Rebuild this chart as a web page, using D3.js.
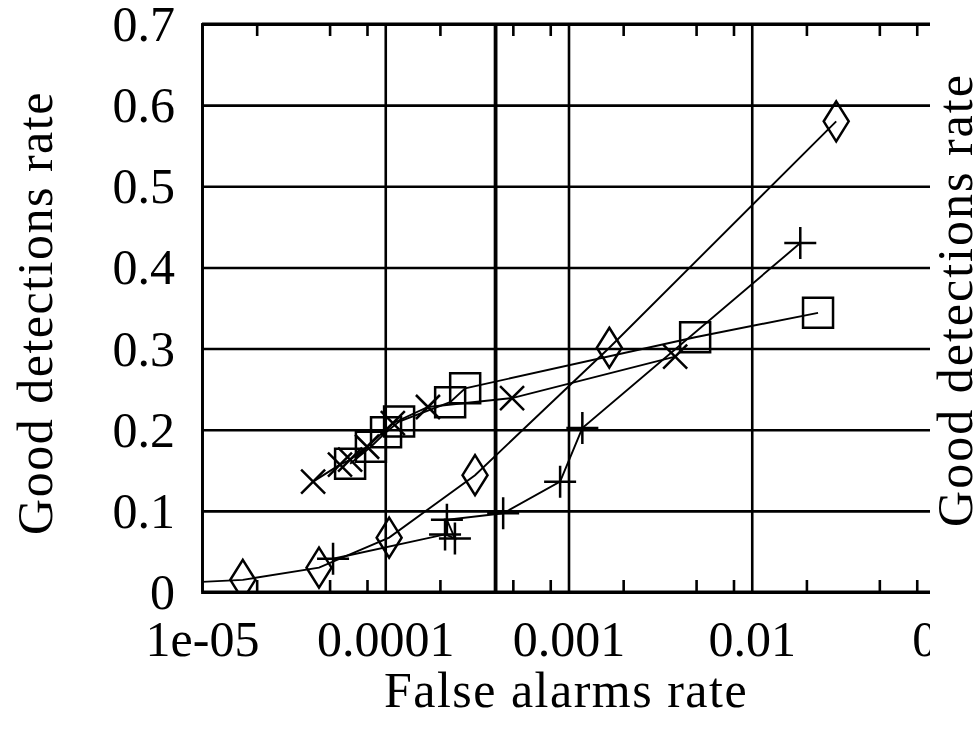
<!DOCTYPE html>
<html>
<head>
<meta charset="utf-8">
<script src="https://cdn.jsdelivr.net/npm/d3@7"></script>
<style>
  body { margin: 0; background: #fff; }
  text { font-family: "Liberation Serif", "DejaVu Serif", serif; fill: #000; }
</style>
</head>
<body>
<script>
// false alarm rate (x) / good detection rate (y), one pair of arrays per series
var diamondX = [6e-6, 1.67e-5, 4.35e-5, 1.05e-4, 3.09e-4, 1.67e-3, 0.0289];
var diamondY = [0.010, 0.015, 0.030, 0.067, 0.144, 0.301, 0.580];
var plusX = [5.19e-5, 2.12e-4, 2.40e-4, 2.17e-4, 4.40e-4, 9.0e-4, 1.19e-3, 0.0184];
var plusY = [0.041, 0.071, 0.066, 0.089, 0.097, 0.136, 0.202, 0.430];
var crossX = [4.04e-5, 5.66e-5, 6.43e-5, 7.96e-5, 1.10e-4, 1.71e-4, 4.92e-4, 3.82e-3];
var crossY = [0.136, 0.157, 0.163, 0.179, 0.208, 0.228, 0.239, 0.290];
var squareX = [6.43e-5, 8.35e-5, 1.01e-4, 1.19e-4, 2.26e-4, 2.73e-4, 4.91e-3, 0.0230];
var squareY = [0.158, 0.179, 0.197, 0.210, 0.234, 0.251, 0.314, 0.344];

var xTicks = [1e-5, 1e-4, 1e-3, 1e-2, 1e-1];
var xTickLabels = ["1e-05", "0.0001", "0.001", "0.01", "0.1"];
var xMinor = [2, 5, 8];
var yTicks = [0, 0.1, 0.2, 0.3, 0.4, 0.5, 0.6, 0.7];
var yTickLabels = ["0", "0.1", "0.2", "0.3", "0.4", "0.5", "0.6", "0.7"];
var thresholdX = 4e-4;

(function() {
    var W = 975, H = 735;
    var pl = 202, pt = 24, pb = 592, pr = 935, cut = 930;

    var x = d3.scaleLog().domain([1e-5, 0.1]).range([pl, pr]);
    var y = d3.scaleLinear().domain([0, 0.7]).range([pb, pt]);

    var svg = d3.select("body").append("svg")
        .attr("width", W)
        .attr("height", H);

    svg.append("clipPath").attr("id", "cut")
      .append("rect").attr("x", 0).attr("y", 0).attr("width", cut).attr("height", H);
    svg.append("clipPath").attr("id", "plot")
      .append("rect").attr("x", pl).attr("y", pt).attr("width", cut - pl).attr("height", pb - pt);

    var g = svg.append("g").attr("clip-path", "url(#cut)");

    // horizontal grid + y labels
    var yAxis = d3.axisLeft(y)
        .tickValues(yTicks)
        .tickFormat(function(d, i) { return yTickLabels[i]; })
        .tickSize(-(pr - pl))
        .tickPadding(27);
    g.append("g")
        .attr("transform", "translate(" + pl + ",0)")
        .call(yAxis)
        .call(function(a) {
            a.select(".domain").attr("stroke", "#000").attr("stroke-width", 2.8);
            a.selectAll(".tick line").attr("stroke", "#000").attr("stroke-width", 2.6);
            a.selectAll(".tick text")
                .attr("font-size", 50)
                .attr("font-family", "Liberation Serif")
                .attr("dy", "0.33em");
        });

    // vertical grid + x labels
    var xAxis = d3.axisBottom(x)
        .tickValues(xTicks)
        .tickFormat(function(d, i) { return xTickLabels[i]; })
        .tickSize(-(pb - pt))
        .tickPadding(28);
    g.append("g")
        .attr("transform", "translate(0," + pb + ")")
        .call(xAxis)
        .call(function(a) {
            a.select(".domain").remove();
            a.selectAll(".tick line").attr("stroke", "#000").attr("stroke-width", 2.6);
            a.selectAll(".tick text")
                .attr("font-size", 50)
                .attr("font-family", "Liberation Serif")
                .attr("dy", "0.71em")
                .attr("dx", function(d) { return d === 0.1 ? 8 : 0; });
        });

    // plot borders (top, bottom)
    g.append("g").selectAll("line")
        .data([0, 0.7])
      .enter()
        .append("line")
        .attr("x1", pl).attr("x2", pr)
        .attr("y1", function(d) { return y(d); })
        .attr("y2", function(d) { return y(d); })
        .attr("stroke", "#000").attr("stroke-width", 2.8);

    // minor ticks on bottom and top
    var minor = [];
    xTicks.slice(0, 4).forEach(function(d) {
        xMinor.forEach(function(m) { minor.push(d * m); });
    });
    [[pb, pb - 12], [pt, pt + 12]].forEach(function(ends) {
        g.append("g").selectAll("line")
            .data(minor)
          .enter()
            .append("line")
            .attr("x1", function(d) { return x(d); })
            .attr("x2", function(d) { return x(d); })
            .attr("y1", ends[0]).attr("y2", ends[1])
            .attr("stroke", "#000").attr("stroke-width", 2.6);
    });

    // threshold line
    g.append("line")
        .attr("x1", x(thresholdX)).attr("x2", x(thresholdX))
        .attr("y1", pt).attr("y2", pb)
        .attr("stroke", "#000").attr("stroke-width", 3.8);

    // series
    var markers = {
        diamond: "M0,-20L12.5,0L0,20L-12.5,0Z",
        plus: "M-16,0H16M0,-16V16",
        cross: "M-12,-12L12,12M12,-12L-12,12",
        square: "M-15,-15H15V15H-15Z"
    };

    var series = [
        { xs: diamondX, ys: diamondY, marker: "diamond" },
        { xs: plusX, ys: plusY, marker: "plus" },
        { xs: crossX, ys: crossY, marker: "cross" },
        { xs: squareX, ys: squareY, marker: "square" }
    ];

    var plot = g.append("g").attr("clip-path", "url(#plot)");
    var line = d3.line()
        .x(function(d) { return x(d[0]); })
        .y(function(d) { return y(d[1]); });

    series.forEach(function(s) {
        var pts = d3.zip(s.xs, s.ys);
        plot.append("path")
            .datum(pts)
            .attr("d", line)
            .attr("fill", "none")
            .attr("stroke", "#000")
            .attr("stroke-width", 1.9);
        plot.selectAll(".m-" + s.marker)
            .data(pts)
          .enter()
            .append("path")
            .attr("class", "m-" + s.marker)
            .attr("transform", function(d) { return "translate(" + x(d[0]) + "," + y(d[1]) + ")"; })
            .attr("d", markers[s.marker])
            .attr("fill", "none")
            .attr("stroke", "#000")
            .attr("stroke-width", 2.5);
    });

    // axis titles
    svg.append("text")
        .attr("x", 566)
        .attr("y", 707)
        .attr("text-anchor", "middle")
        .attr("font-size", 50)
        .attr("letter-spacing", 1.5)
        .text("False alarms rate");

    svg.append("text")
        .attr("transform", "translate(52,313) rotate(-90)")
        .attr("text-anchor", "middle")
        .attr("font-size", 50)
        .attr("letter-spacing", 1.5)
        .text("Good detections rate");

    svg.append("text")
        .attr("transform", "translate(972,300) rotate(-90)")
        .attr("text-anchor", "middle")
        .attr("font-size", 50)
        .attr("letter-spacing", 2)
        .text("Good detections rate");
})();
</script>
</body>
</html>
